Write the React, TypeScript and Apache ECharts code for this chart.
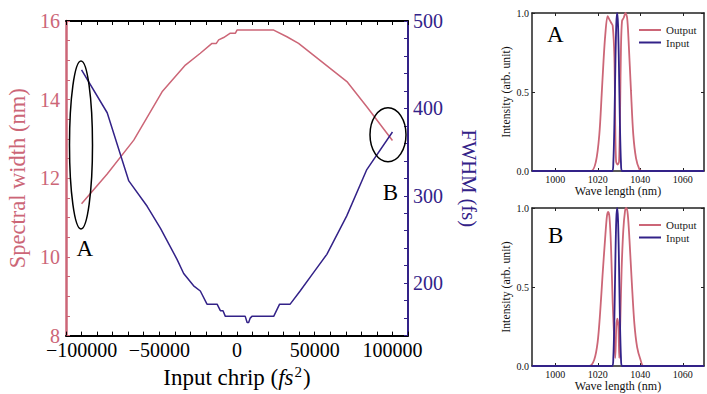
import React, { useEffect, useRef } from "react";
import * as echarts from "echarts";

const RED = "#CC6677";
const NAVY = "#332288";
const FONT = "'Liberation Serif', 'Times New Roman', serif";

// Main chart: spectral width (left axis) vs input chirp
const widthChirp = [-100000, -83500, -66400, -48200, -33200, -23600, -16100, -13300, -11800, -8600, -4300, -1000, 0, 23600, 32100, 39600, 70700, 83500, 100000];
const spectralWidth = [11.35, 12.11, 12.97, 14.2, 14.88, 15.18, 15.43, 15.43, 15.52, 15.58, 15.69, 15.69, 15.77, 15.77, 15.6, 15.43, 14.46, 13.82, 12.96];

// Main chart: FWHM (right axis) vs input chirp
const fwhmChirp = [-100000, -83500, -69600, -57800, -49300, -38500, -34300, -27900, -23600, -19300, -12800, -10700, -9000, -7500, 5300, 6500, 7500, 8500, 9600, 23600, 27400, 34200, 40600, 49200, 57800, 70600, 83500, 100000];
const fwhm = [444, 395, 317, 288, 263, 227, 211, 197, 191, 176, 176, 168.5, 168.5, 162, 162, 155, 155, 160, 162, 162, 176, 176, 191, 212, 233, 277, 330, 373];

// Panel A spectra
const outAWl = [989, 1016.8, 1019.1, 1020.7, 1021.8, 1022.7, 1023.5, 1024.6, 1025.4, 1026.2, 1027.0, 1027.8, 1028.2, 1028.6, 1029.3, 1030.0, 1030.5, 1030.9, 1031.4, 1032.2, 1033.0, 1033.8, 1034.5, 1035.6, 1036.7, 1038.0, 1039.6, 1040.7, 1070];
const outAI = [0, 0, 0.06, 0.23, 0.48, 0.7, 0.86, 0.98, 0.96, 0.94, 0.92, 0.72, 0.29, 0.06, 0.04, 0.06, 0.4, 0.78, 0.95, 0.97, 1.0, 0.97, 0.82, 0.51, 0.23, 0.08, 0.01, 0, 0];

// Panel B spectra
const outBWl = [989, 1016, 1018.3, 1019.9, 1021.1, 1022.2, 1023.4, 1024.3, 1024.9, 1025.5, 1026.2, 1027.0, 1027.8, 1028.2, 1028.7, 1029.2, 1029.7, 1030.1, 1030.6, 1031.2, 1032.0, 1032.8, 1033.4, 1034.1, 1034.9, 1036.0, 1037.2, 1038.5, 1040.1, 1041.6, 1070];
const outBI = [0, 0, 0.04, 0.15, 0.34, 0.57, 0.8, 0.95, 0.975, 0.94, 0.76, 0.4, 0.15, 0.05, 0.25, 0.3, 0.25, 0.05, 0.29, 0.61, 0.86, 0.98, 1.0, 0.96, 0.8, 0.53, 0.27, 0.12, 0.04, 0, 0];

// Input pulse spectrum (same in both panels)
const inWl = [989, 1026.8, 1027.3, 1027.8, 1028.3, 1028.7, 1029.1, 1029.5, 1029.9, 1030.4, 1030.9, 1031.4, 1070];
const inI = [0, 0, 0.05, 0.3, 0.7, 0.93, 1.0, 0.93, 0.7, 0.3, 0.05, 0, 0];

const chirpLabels = [-100000, -50000, 0, 50000, 100000];
const widthLabels = [8, 10, 12, 14, 16];
const fwhmLabels = [200, 300, 400, 500];
const wlLabels = [1000, 1020, 1040, 1060];
const intensityLabels = [0, 0.5, 1];

const zip = (xs: number[], ys: number[]) => xs.map((x, i) => [x, ys[i]]);

export default function App() {
  const ref = useRef<HTMLDivElement>(null);
  useEffect(() => {
    document.body.style.margin = "0";
    const chart = echarts.init(ref.current!, undefined, { renderer: "svg" });

    const mainGrid = { left: 66, top: 21, width: 342, height: 315 };
    const gridA = { left: 532, top: 13, width: 172, height: 158 };
    const gridB = { left: 532, top: 208, width: 172, height: 158 };

    const smallX = (gridIndex: number, pos: "bottom" | "top") => ({
      type: "value",
      gridIndex,
      position: pos,
      min: 989,
      max: 1070,
      axisLine: { show: true, onZero: false, lineStyle: { color: "#222", width: 1.5 } },
      axisTick: { show: true, inside: true, length: 3, customValues: wlLabels, lineStyle: { color: "#222" } },
      axisLabel: {
        show: pos === "bottom",
        customValues: wlLabels,
        formatter: (v: number) => String(v),
        margin: 3,
        fontFamily: FONT,
        fontSize: 10,
        color: "#111",
      },
      splitLine: { show: false },
      name: pos === "bottom" ? "Wave length (nm)" : "",
      nameLocation: "middle",
      nameGap: 14,
      nameTextStyle: { fontFamily: FONT, fontSize: 12, color: "#111" },
    });
    const smallY = (gridIndex: number, pos: "left" | "right") => ({
      type: "value",
      gridIndex,
      position: pos,
      min: 0,
      max: 1,
      interval: 0.5,
      axisLine: { show: true, onZero: false, lineStyle: { color: "#222", width: 1.5 } },
      axisTick: { show: true, inside: true, length: 3, lineStyle: { color: "#222" } },
      axisLabel: {
        show: pos === "left",
        margin: 3,
        fontFamily: FONT,
        fontSize: 10,
        color: "#111",
        formatter: (v: number) => (intensityLabels.includes(v) ? v.toFixed(1) : ""),
      },
      splitLine: { show: false },
      name: pos === "left" ? "Intensity (arb. unit)" : "",
      nameLocation: "middle",
      nameGap: 20,
      nameTextStyle: { fontFamily: FONT, fontSize: 11.8, color: "#111" },
    });

    const chirpFmt = (v: number) =>
      chirpLabels.includes(v) ? (v < 0 ? "\u2212" + Math.abs(v) : String(v)) : "";

    const legendCfg = (top: number) => ({
      left: 634,
      top,
      orient: "vertical",
      icon: "rect",
      itemWidth: 22,
      itemHeight: 2,
      itemGap: 1.5,
      data: ["Output", "Input"],
      textStyle: { fontFamily: FONT, fontSize: 11, color: "#222" },
    });

    chart.setOption({
      animation: false,
      grid: [mainGrid, gridA, gridB],
      xAxis: [
        {
          type: "value",
          gridIndex: 0,
          position: "bottom",
          min: -110000,
          max: 110000,
          interval: 10000,
          axisLine: { show: true, onZero: false, lineStyle: { color: "#000", width: 2 } },
          axisTick: { show: true, inside: true, length: 4, lineStyle: { color: "#000" } },
          axisLabel: { formatter: chirpFmt, margin: 4, fontFamily: FONT, fontSize: 20, color: "#000" },
          splitLine: { show: false },
          name: "{n|Input chrip (}{i|fs}{s|2}{n|)}",
          nameLocation: "middle",
          nameGap: 27,
          nameTextStyle: {
            fontFamily: FONT,
            fontSize: 23,
            color: "#000",
            rich: {
              n: { fontFamily: FONT, fontSize: 23, color: "#000" },
              i: { fontFamily: FONT, fontSize: 23, fontStyle: "italic", color: "#000" },
              s: { fontFamily: FONT, fontSize: 15, color: "#000", padding: [0, 1, 11, 1] },
            },
          },
        },
        {
          type: "value",
          gridIndex: 0,
          position: "top",
          min: -110000,
          max: 110000,
          interval: 10000,
          axisLine: { show: true, onZero: false, lineStyle: { color: "#000", width: 2 } },
          axisTick: { show: true, inside: true, length: 4, lineStyle: { color: "#000" } },
          axisLabel: { show: false },
          splitLine: { show: false },
        },
        smallX(1, "bottom"),
        smallX(1, "top"),
        smallX(2, "bottom"),
        smallX(2, "top"),
      ],
      yAxis: [
        {
          type: "value",
          gridIndex: 0,
          position: "left",
          min: 8,
          max: 16,
          interval: 0.5,
          axisLine: { show: true, onZero: false, lineStyle: { color: RED, width: 2.5 } },
          axisTick: { show: true, inside: true, length: 4, lineStyle: { color: RED } },
          axisLabel: {
            formatter: (v: number) => (widthLabels.includes(v) ? String(v) : ""),
            margin: 6,
            fontFamily: FONT,
            fontSize: 20,
            color: RED,
          },
          splitLine: { show: false },
          name: "Spectral width (nm)",
          nameLocation: "middle",
          nameGap: 37,
          nameTextStyle: { fontFamily: FONT, fontSize: 22.5, color: RED },
        },
        {
          type: "value",
          gridIndex: 0,
          position: "right",
          min: 140,
          max: 500,
          interval: 20,
          axisLine: { show: true, onZero: false, lineStyle: { color: NAVY, width: 2 } },
          axisTick: { show: true, inside: true, length: 4, lineStyle: { color: NAVY } },
          axisLabel: {
            formatter: (v: number) => (fwhmLabels.includes(v) ? String(v) : ""),
            margin: 5,
            fontFamily: FONT,
            fontSize: 20,
            color: NAVY,
          },
          splitLine: { show: false },
          name: "FWHM (fs)",
          nameLocation: "middle",
          nameRotate: -90,
          nameGap: 50,
          nameTextStyle: { fontFamily: FONT, fontSize: 20.5, color: NAVY },
        },
        smallY(1, "left"),
        smallY(1, "right"),
        smallY(2, "left"),
        smallY(2, "right"),
      ],
      legend: [legendCfg(19.5), legendCfg(214.5)],
      series: [
        {
          type: "line",
          name: "Spectral width",
          xAxisIndex: 0,
          yAxisIndex: 0,
          data: zip(widthChirp, spectralWidth),
          symbol: "none",
          lineStyle: { color: RED, width: 1.5 },
          itemStyle: { color: RED },
        },
        {
          type: "line",
          name: "FWHM",
          xAxisIndex: 0,
          yAxisIndex: 1,
          data: zip(fwhmChirp, fwhm),
          symbol: "none",
          lineStyle: { color: NAVY, width: 1.5 },
          itemStyle: { color: NAVY },
        },
        {
          type: "line",
          name: "Output",
          xAxisIndex: 2,
          yAxisIndex: 2,
          data: zip(outAWl, outAI),
          symbol: "none",
          smooth: 0.3,
          lineStyle: { color: RED, width: 1.8 },
          itemStyle: { color: RED },
        },
        {
          type: "line",
          name: "Input",
          xAxisIndex: 2,
          yAxisIndex: 2,
          data: zip(inWl, inI),
          symbol: "none",
          smooth: 0.3,
          lineStyle: { color: NAVY, width: 1.8 },
          itemStyle: { color: NAVY },
        },
        {
          type: "line",
          name: "Output",
          xAxisIndex: 4,
          yAxisIndex: 4,
          data: zip(outBWl, outBI),
          symbol: "none",
          smooth: 0.3,
          lineStyle: { color: RED, width: 1.8 },
          itemStyle: { color: RED },
        },
        {
          type: "line",
          name: "Input",
          xAxisIndex: 4,
          yAxisIndex: 4,
          data: zip(inWl, inI),
          symbol: "none",
          smooth: 0.3,
          lineStyle: { color: NAVY, width: 1.8 },
          itemStyle: { color: NAVY },
        },
      ],
      graphic: [
        {
          type: "ellipse",
          shape: { cx: 81, cy: 145, rx: 11.5, ry: 84 },
          style: { fill: "none", stroke: "#000", lineWidth: 1.5 },
          z: 100,
        },
        {
          type: "ellipse",
          shape: { cx: 388, cy: 134.7, rx: 18, ry: 27 },
          style: { fill: "none", stroke: "#000", lineWidth: 1.5 },
          z: 100,
        },
        {
          type: "text",
          x: 84.7,
          y: 248.7,
          style: { text: "A", fontFamily: FONT, fontSize: 23, fill: "#000", align: "center", verticalAlign: "middle" },
          z: 100,
        },
        {
          type: "text",
          x: 390.5,
          y: 192.5,
          style: { text: "B", fontFamily: FONT, fontSize: 23, fill: "#000", align: "center", verticalAlign: "middle" },
          z: 100,
        },
        {
          type: "text",
          x: 555.3,
          y: 34.5,
          style: { text: "A", fontFamily: FONT, fontSize: 23, fill: "#000", align: "center", verticalAlign: "middle" },
          z: 100,
        },
        {
          type: "text",
          x: 555.7,
          y: 235.3,
          style: { text: "B", fontFamily: FONT, fontSize: 23, fill: "#000", align: "center", verticalAlign: "middle" },
          z: 100,
        },
      ],
    });
    return () => chart.dispose();
  }, []);
  return <div ref={ref} style={{ width: 707, height: 394 }} />;
}
